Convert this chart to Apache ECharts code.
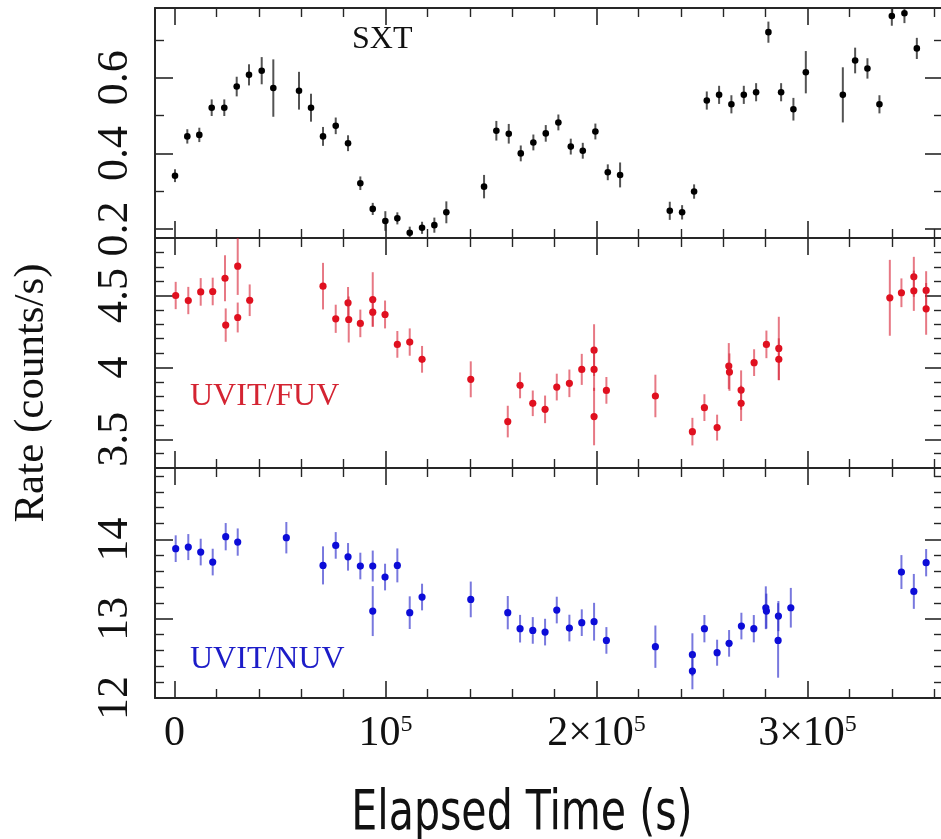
<!DOCTYPE html>
<html><head><meta charset="utf-8">
<script src="https://cdn.jsdelivr.net/npm/echarts@6/dist/echarts.min.js"></script>
<style>html,body{margin:0;padding:0;background:#fff}#c{width:941px;height:839px}</style>
</head><body><div id="c"></div>
<script>
// ---------------- data ----------------
const sxtTime = [240, 6070, 11760, 17630, 23600, 29480, 35310, 41330, 46830, 59010, 64700, 70390, 76410, 82240, 88070, 93950, 99920, 105610, 111480, 117320, 123150, 128830, 146700, 152530, 158410, 164100, 170070, 175950, 181920, 187800, 193490, 199460, 205340, 211170, 234720, 240560, 246240, 252260, 258090, 263920, 269800, 275630, 281460, 287480, 293310, 299190, 316730, 322560, 328390, 334080, 339950, 345930, 351800];
const sxtRate = [0.341, 0.445, 0.449, 0.521, 0.521, 0.577, 0.608, 0.619, 0.573, 0.566, 0.521, 0.445, 0.473, 0.427, 0.321, 0.253, 0.221, 0.228, 0.190, 0.203, 0.210, 0.244, 0.312, 0.460, 0.452, 0.400, 0.429, 0.453, 0.482, 0.418, 0.407, 0.458, 0.350, 0.343, 0.248, 0.244, 0.299, 0.540, 0.555, 0.530, 0.555, 0.562, 0.721, 0.562, 0.517, 0.615, 0.555, 0.646, 0.625, 0.530, 0.764, 0.771, 0.678];
const sxtErr = [0.017, 0.019, 0.019, 0.022, 0.022, 0.026, 0.028, 0.036, 0.076, 0.050, 0.037, 0.025, 0.022, 0.021, 0.018, 0.016, 0.026, 0.016, 0.016, 0.016, 0.020, 0.029, 0.031, 0.026, 0.026, 0.021, 0.021, 0.022, 0.021, 0.021, 0.021, 0.021, 0.021, 0.033, 0.024, 0.019, 0.019, 0.024, 0.024, 0.024, 0.024, 0.024, 0.028, 0.024, 0.030, 0.056, 0.073, 0.034, 0.027, 0.024, 0.026, 0.026, 0.028];

const fuvTime = [570, 6540, 12420, 18110, 23940, 24270, 29960, 29960, 35640, 70390, 76410, 82240, 82570, 88070, 93950, 93950, 99780, 105610, 111480, 117320, 140400, 157940, 163770, 169790, 175620, 181160, 187140, 193010, 198840, 198840, 198840, 204680, 227900, 245440, 251130, 257150, 262690, 263000, 268520, 268520, 274680, 280510, 286390, 286390, 339000, 344500, 350380, 350380, 356210, 356210];
const fuvRate = [4.50, 4.465, 4.525, 4.528, 4.62, 4.294, 4.704, 4.347, 4.467, 4.565, 4.338, 4.449, 4.333, 4.306, 4.472, 4.384, 4.368, 4.16, 4.176, 4.056, 3.917, 3.623, 3.875, 3.75, 3.708, 3.863, 3.889, 3.986, 4.12, 3.986, 3.658, 3.84, 3.801, 3.553, 3.72, 3.581, 4.009, 3.967, 3.842, 3.75, 4.033, 4.16, 4.132, 4.056, 4.484, 4.519, 4.63, 4.533, 4.535, 4.407];
const fuvErr = [0.095, 0.095, 0.096, 0.096, 0.16, 0.116, 0.2, 0.104, 0.11, 0.162, 0.098, 0.11, 0.16, 0.096, 0.19, 0.10, 0.097, 0.093, 0.095, 0.093, 0.125, 0.11, 0.09, 0.089, 0.096, 0.093, 0.096, 0.108, 0.18, 0.15, 0.2, 0.093, 0.148, 0.096, 0.093, 0.09, 0.16, 0.13, 0.137, 0.123, 0.093, 0.096, 0.22, 0.146, 0.264, 0.1, 0.139, 0.14, 0.134, 0.18];

const nuvTime = [570, 6540, 12420, 18110, 24270, 29960, 53000, 70390, 76410, 82240, 88070, 93950, 93950, 99780, 105610, 111480, 117320, 140400, 157940, 163770, 169790, 175620, 181160, 187140, 193010, 198840, 204680, 227900, 245440, 245440, 251130, 257150, 262830, 268660, 274540, 280230, 280510, 286200, 286060, 292080, 344500, 350380, 356210];
const nuvRate = [13.883, 13.903, 13.84, 13.714, 14.034, 13.966, 14.021, 13.672, 13.924, 13.78, 13.664, 13.664, 13.096, 13.525, 13.672, 13.076, 13.273, 13.243, 13.076, 12.874, 12.852, 12.831, 13.109, 12.882, 12.95, 12.962, 12.726, 12.647, 12.546, 12.34, 12.874, 12.571, 12.689, 12.907, 12.874, 13.138, 13.096, 13.033, 12.726, 13.138, 13.588, 13.344, 13.706];
const nuvErr = [0.168, 0.164, 0.168, 0.168, 0.172, 0.172, 0.198, 0.24, 0.168, 0.174, 0.168, 0.195, 0.315, 0.168, 0.214, 0.206, 0.168, 0.225, 0.21, 0.174, 0.168, 0.168, 0.168, 0.168, 0.168, 0.238, 0.168, 0.267, 0.27, 0.23, 0.172, 0.164, 0.168, 0.168, 0.172, 0.27, 0.22, 0.19, 0.47, 0.25, 0.214, 0.22, 0.172];

// ticks
const xMajorTicks = [0, 100000, 200000, 300000];
const xTickLabels = ['0', '10^5', '2×10^5', '3×10^5'];
const xMinorTicks = [20000, 40000, 60000, 80000, 120000, 140000, 160000, 180000, 220000, 240000, 260000, 280000, 320000, 340000, 360000];

const sxtMajorTicks = [0.2, 0.4, 0.6];
const sxtTickLabels = ['0.2', '0.4', '0.6'];
const sxtMinorTicks = [0.3, 0.5, 0.7];
const fuvMajorTicks = [3.5, 4, 4.5];
const fuvTickLabels = ['3.5', '4', '4.5'];
const fuvMinorTicks = [3.4, 3.6, 3.7, 3.8, 3.9, 4.1, 4.2, 4.3, 4.4, 4.6, 4.7, 4.8];
const nuvMajorTicks = [12, 13, 14];
const nuvTickLabels = ['12', '13', '14'];
const nuvMinorTicks = [12.2, 12.4, 12.6, 12.8, 13.2, 13.4, 13.6, 13.8, 14.2, 14.4, 14.6, 14.8];

const panelNames = ['SXT', 'UVIT/FUV', 'UVIT/NUV'];

// ---------------- layout / style ----------------
const X_MIN = -9240, X_MAX = 364200;
const GRID_LEFT = 155, GRID_W = 788, GRID_H = 230;
const gridTops = [8, 238, 468];
const yRanges = [[0.176, 0.785], [3.3, 4.9], [12, 14.9]];
const AX = '#262626';
const SERIF = '"Liberation Serif", "Times New Roman", serif';

const panels = [
  {time: sxtTime, rate: sxtRate, err: sxtErr, major: sxtMajorTicks, labels: sxtTickLabels, minor: sxtMinorTicks,
   dot: '#000000', bar: 'rgba(40,40,40,0.8)', r: 3.3},
  {time: fuvTime, rate: fuvRate, err: fuvErr, major: fuvMajorTicks, labels: fuvTickLabels, minor: fuvMinorTicks,
   dot: '#e0101f', bar: 'rgba(215,30,50,0.6)', r: 3.6},
  {time: nuvTime, rate: nuvRate, err: nuvErr, major: nuvMajorTicks, labels: nuvTickLabels, minor: nuvMinorTicks,
   dot: '#0c0cd8', bar: 'rgba(30,30,200,0.6)', r: 3.6}
];

const grids = [], xAxes = [], yAxes = [], series = [];

function xLabelRich(s) {
  const parts = s.split('^');
  return parts.length > 1 ? '{b|' + parts[0] + '}{s|' + parts[1] + '}' : '{b|' + s + '}';
}

panels.forEach((p, g) => {
  grids.push({left: GRID_LEFT, top: gridTops[g], width: GRID_W, height: GRID_H,
    containLabel: false, outerBoundsMode: 'none'});
  const xi = xAxes.length;
  ['bottom', 'top'].forEach(pos => {
    xAxes.push({
      type: 'value', gridIndex: g, position: pos, min: X_MIN, max: X_MAX, offset: 0,
      axisLine: {show: true, onZero: false, lineStyle: {color: AX, width: 2}},
      axisTick: {show: true, inside: true, length: 17, customValues: xMajorTicks, lineStyle: {color: AX, width: 1.6}},
      axisLabel: (g === 2 && pos === 'bottom') ? {
        show: true, customValues: xMajorTicks, margin: 15,
        formatter: v => xLabelRich(xTickLabels[xMajorTicks.indexOf(v)]),
        rich: {
          b: {fontSize: 42, fontFamily: SERIF, color: '#111'},
          s: {fontSize: 24, fontFamily: SERIF, color: '#111', verticalAlign: 'top'}
        }
      } : {show: false},
      splitLine: {show: false}
    });
    xAxes.push({
      type: 'value', gridIndex: g, position: pos, min: X_MIN, max: X_MAX, offset: 0,
      axisLine: {show: false, onZero: false},
      axisTick: {show: true, inside: true, length: 9, customValues: xMinorTicks, lineStyle: {color: AX, width: 1.4}},
      axisLabel: {show: false}, splitLine: {show: false}
    });
  });
  const yi = yAxes.length;
  ['left', 'right'].forEach(pos => {
    yAxes.push({
      type: 'value', gridIndex: g, position: pos, min: yRanges[g][0], max: yRanges[g][1], offset: 0,
      axisLine: {show: true, onZero: false, lineStyle: {color: AX, width: 2}},
      axisTick: {show: true, inside: true, length: 18, customValues: p.major, lineStyle: {color: AX, width: 1.6}},
      axisLabel: pos === 'left' ? {
        show: true, customValues: p.major, rotate: 90, margin: 18,
        fontSize: 44, fontFamily: SERIF, color: '#111',
        formatter: v => p.labels[p.major.indexOf(v)]
      } : {show: false},
      splitLine: {show: false}
    });
    yAxes.push({
      type: 'value', gridIndex: g, position: pos, min: yRanges[g][0], max: yRanges[g][1], offset: 0,
      axisLine: {show: false, onZero: false},
      axisTick: {show: true, inside: true, length: 9, customValues: p.minor, lineStyle: {color: AX, width: 1.4}},
      axisLabel: {show: false}, splitLine: {show: false}
    });
  });

  series.push({
    type: 'custom', xAxisIndex: xi, yAxisIndex: yi,
    dimensions: ['time', 'rate', 'err'], encode: {x: 0, y: 1},
    data: p.time.map((t, i) => [t, p.rate[i], p.err[i]]),
    renderItem: (params, api) => {
      const t = api.value(0), v = api.value(1), e = api.value(2);
      const c = api.coord([t, v]);
      const lo = api.coord([t, v - e]);
      const hi = api.coord([t, v + e]);
      const cs = params.coordSys;
      const yTop = Math.max(cs.y, hi[1]);
      const yBot = Math.min(cs.y + cs.height, lo[1]);
      return {type: 'group', children: [
        {type: 'line', shape: {x1: c[0], y1: yBot, x2: c[0], y2: yTop}, style: {stroke: p.bar, lineWidth: 2}},
        {type: 'circle', shape: {cx: c[0], cy: c[1], r: p.r}, style: {fill: p.dot}}
      ]};
    },
    silent: true, animation: false
  });
});

const option = {
  backgroundColor: '#fff',
  animation: false,
  grid: grids, xAxis: xAxes, yAxis: yAxes, series: series,
  graphic: [
    {type: 'text', x: 352, y: 40, style: {text: panelNames[0], font: '32px ' + SERIF, fill: '#111', textAlign: 'left', textVerticalAlign: 'middle'}},
    {type: 'text', x: 190, y: 397, style: {text: panelNames[1], font: '32px ' + SERIF, fill: '#d42432', textAlign: 'left', textVerticalAlign: 'middle'}},
    {type: 'text', x: 190, y: 660, style: {text: panelNames[2], font: '32px ' + SERIF, fill: '#1c1cc8', textAlign: 'left', textVerticalAlign: 'middle'}},
    {type: 'text', x: 32, y: 393, rotation: Math.PI / 2, style: {text: 'Rate (counts/s)', font: '43px ' + SERIF, fill: '#111', textAlign: 'center', textVerticalAlign: 'middle'}},
    {type: 'text', x: 522, y: 815, scaleX: 0.83, style: {text: 'Elapsed Time (s)', font: '55px "DejaVu Sans Condensed", "DejaVu Sans", sans-serif', fill: '#111', textAlign: 'center', textVerticalAlign: 'middle'}}
  ]
};

const chart = echarts.init(document.getElementById('c'), null, {renderer: 'canvas'});
chart.setOption(option);
</script>
</body></html>
